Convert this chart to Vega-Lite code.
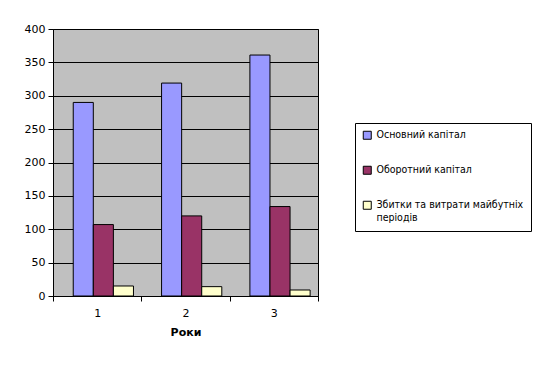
{
  "$schema": "https://vega.github.io/schema/vega-lite/v6.json",
  "width": 265,
  "height": 267,
  "autosize": "none",
  "padding": {"left": 53, "top": 29, "right": 224, "bottom": 71},
  "background": "white",
  "config": {
    "font": "DejaVu Sans",
    "view": {"fill": "#C0C0C0", "stroke": "black", "strokeWidth": 1}
  },
  "data": {
    "values": [
      {"year": "1", "series": "Основний капітал", "value": 290},
      {"year": "1", "series": "Оборотний капітал", "value": 107},
      {"year": "1", "series": "Збитки та витрати майбутніх періодів", "value": 15},
      {"year": "2", "series": "Основний капітал", "value": 319},
      {"year": "2", "series": "Оборотний капітал", "value": 120},
      {"year": "2", "series": "Збитки та витрати майбутніх періодів", "value": 14},
      {"year": "3", "series": "Основний капітал", "value": 361},
      {"year": "3", "series": "Оборотний капітал", "value": 134},
      {"year": "3", "series": "Збитки та витрати майбутніх періодів", "value": 9}
    ]
  },
  "mark": {"type": "bar", "stroke": "black", "strokeWidth": 1},
  "encoding": {
    "x": {
      "field": "year",
      "type": "nominal",
      "scale": {"paddingInner": 0, "paddingOuter": 0},
      "axis": {
        "title": "Роки",
        "labelAngle": 0,
        "tickBand": "extent",
        "domainColor": "black",
        "tickColor": "black",
        "tickSize": 5,
        "labelColor": "black",
        "labelFontSize": 11,
        "labelPadding": 6,
        "titleColor": "black",
        "titleFontSize": 11,
        "titleFontWeight": "bold",
        "titlePadding": 8
      }
    },
    "xOffset": {
      "field": "series",
      "type": "nominal",
      "sort": ["Основний капітал", "Оборотний капітал", "Збитки та витрати майбутніх періодів"],
      "scale": {"paddingInner": 0, "paddingOuter": 0.7, "align": 0.72}
    },
    "y": {
      "field": "value",
      "type": "quantitative",
      "scale": {"domain": [0, 400]},
      "axis": {
        "title": null,
        "values": [0, 50, 100, 150, 200, 250, 300, 350, 400],
        "grid": true,
        "gridColor": "black",
        "gridOpacity": 1,
        "domainColor": "black",
        "tickColor": "black",
        "tickSize": 5,
        "labelColor": "black",
        "labelFontSize": 11,
        "labelPadding": 3
      }
    },
    "color": {
      "field": "series",
      "type": "nominal",
      "scale": {
        "domain": ["Основний капітал", "Оборотний капітал", "Збитки та витрати майбутніх періодів"],
        "range": ["#9999FF", "#993366", "#FFFFCC"]
      },
      "legend": {
        "title": null,
        "orient": "none",
        "legendX": 302,
        "legendY": 94,
        "strokeColor": "black",
        "fillColor": "white",
        "padding": 7,
        "symbolType": "square",
        "symbolSize": 64,
        "symbolStrokeColor": "black",
        "symbolStrokeWidth": 1,
        "symbolOpacity": 1,
        "symbolOffset": 0,
        "labelOffset": 4,
        "labelFont": "DejaVu Sans Condensed, Liberation Sans",
        "labelFontSize": 10.5,
        "labelColor": "black",
        "labelLimit": 250,
        "rowPadding": 22,
        "labelExpr": "datum.label == 'Збитки та витрати майбутніх періодів' ? ['Збитки та витрати майбутніх', 'періодів'] : datum.label"
      }
    }
  }
}
